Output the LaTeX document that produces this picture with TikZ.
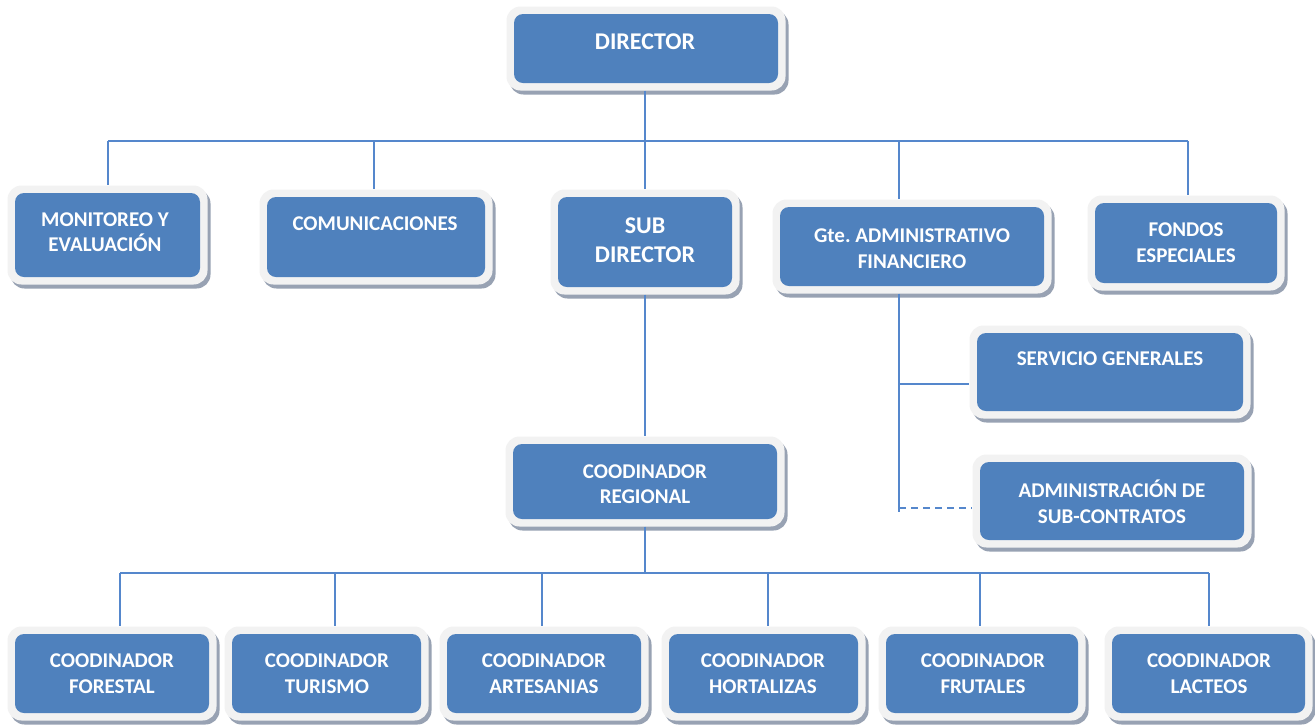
\documentclass[tikz,border=0pt]{standalone}
\usepackage{fontspec}
\setmainfont{Carlito}
\usetikzlibrary{shadows}
\definecolor{boxblue}{HTML}{4F81BD}
\definecolor{framegrey}{HTML}{F2F2F2}
\definecolor{shadowc}{HTML}{98A2B3}
\definecolor{linec}{HTML}{5587CC}
\tikzset{
  oframe/.style={rectangle, rounded corners=14pt, fill=framegrey, inner sep=0pt,
    drop shadow={shadow xshift=3pt, shadow yshift=-4pt, opacity=1, fill=shadowc}},
  oinner/.style={rectangle, rounded corners=9pt, fill=boxblue, inner sep=0pt},
  lbl/.style={text=white, font=\bfseries\fontsize{21}{25.6}\selectfont, align=center, inner sep=0pt},
  lblbig/.style={text=white, font=\bfseries\fontsize{24}{29.5}\selectfont, align=center, inner sep=0pt},
  conn/.style={draw=linec, line width=1.7pt},
  dconn/.style={draw=linec, line width=1.7pt, dash pattern=on 7pt off 5pt},
}
\newcommand{\obox}[5]{%
  \node[oframe, minimum width={#4-#2+15}, minimum height={#5-#3+15}] (#1) at ({(#2+#4)/2},{(#3+#5)/2}) {};
  \node[oinner, minimum width={#4-#2}, minimum height={#5-#3}] (#1-in) at (#1.center) {};
}
\begin{document}
\begin{tikzpicture}[x=1pt,y=-1pt]
\useasboundingbox (0,0) rectangle (1315,724);
\fill[white] (0,0) rectangle (1315,724);

% bus coordinates
\coordinate (busL) at (108,141);
\coordinate (busR) at (1188,141);
\coordinate (c-mid) at (645,141);
\coordinate (c-com) at (374,141);
\coordinate (c-gte) at (899,141);
\coordinate (gteEnd) at (899,512);
\coordinate (c-ser) at (899,384);
\coordinate (c-adm) at (899,508);
\coordinate (bus2L) at (120,573);
\coordinate (bus2R) at (1209,573);
\coordinate (c-tur) at (335,573);
\coordinate (c-art) at (542,573);
\coordinate (c-hor) at (768,573);
\coordinate (c-fru) at (980,573);

% boxes
\obox{dir}{514}{14}{778}{83}
\obox{mon}{15}{193}{200}{277}
\obox{com}{267}{197}{485}{277}
\obox{sub}{558}{197}{732}{287}
\obox{gte}{780}{207}{1044}{286}
\obox{fon}{1095}{203}{1277}{283}
\obox{ser}{977}{333}{1243}{411}
\obox{adm}{980}{462}{1244}{540}
\obox{reg}{513}{444}{777}{519}
\obox{for}{15}{634}{209}{713}
\obox{tur}{232}{634}{421}{713}
\obox{art}{447}{634}{641}{713}
\obox{hor}{669}{634}{858}{713}
\obox{fru}{886}{634}{1078}{713}
\obox{lac}{1112}{634}{1305}{713}

% connectors
\draw[conn] (c-mid |- dir.south) -- (c-mid);
\draw[conn] (busL) -- (busR);
\draw[conn] (busL) -- (busL |- mon.north);
\draw[conn] (c-com) -- (c-com |- com.north);
\draw[conn] (c-mid) -- (c-mid |- sub.north);
\draw[conn] (c-gte) -- (c-gte |- gte.north);
\draw[conn] (c-gte |- gte.south) -- (gteEnd);
\draw[conn] (busR) -- (busR |- fon.north);
\draw[conn] (c-ser) -- (c-ser -| ser.west);
\draw[dconn] (c-adm) -- (c-adm -| adm.west);
\draw[conn] (c-mid |- sub.south) -- (c-mid |- reg.north);
\draw[conn] (c-mid |- reg.south) -- (c-mid |- bus2L);
\draw[conn] (bus2L) -- (bus2R);
\draw[conn] (bus2L) -- (bus2L |- for.north);
\draw[conn] (c-tur) -- (c-tur |- tur.north);
\draw[conn] (c-art) -- (c-art |- art.north);
\draw[conn] (c-hor) -- (c-hor |- hor.north);
\draw[conn] (c-fru) -- (c-fru |- fru.north);
\draw[conn] (bus2R) -- (bus2R |- lac.north);

% labels
\node[lblbig] (dir-t) at (645,42) {DIRECTOR};
\node[lbl] (mon-t) at (105,232) {MONITOREO Y\\EVALUACIÓN};
\node[lbl] (com-t) at (375,224) {COMUNICACIONES};
\node[lblbig] (sub-t) at (645,240) {SUB\\DIRECTOR};
\node[lbl] (gte-t) at (912,248.5) {Gte.\ ADMINISTRATIVO\\FINANCIERO};
\node[lbl] (fon-t) at (1186,242.5) {FONDOS\\ESPECIALES};
\node[lbl] (ser-t) at (1110,359) {SERVICIO GENERALES};
\node[lbl] (adm-t) at (1112,502) {ADMINISTRACIÓN DE\\SUB-CONTRATOS};
\node[lbl] (reg-t) at (645,484) {COODINADOR\\REGIONAL};
\node[lbl] (for-t) at (112,673.5) {COODINADOR\\FORESTAL};
\node[lbl] (tur-t) at (327,673.5) {COODINADOR\\TURISMO};
\node[lbl] (art-t) at (544,673.5) {COODINADOR\\ARTESANIAS};
\node[lbl] (hor-t) at (763,673.5) {COODINADOR\\HORTALIZAS};
\node[lbl] (fru-t) at (983,673.5) {COODINADOR\\FRUTALES};
\node[lbl] (lac-t) at (1209,673.5) {COODINADOR\\LACTEOS};
\end{tikzpicture}
\end{document}
